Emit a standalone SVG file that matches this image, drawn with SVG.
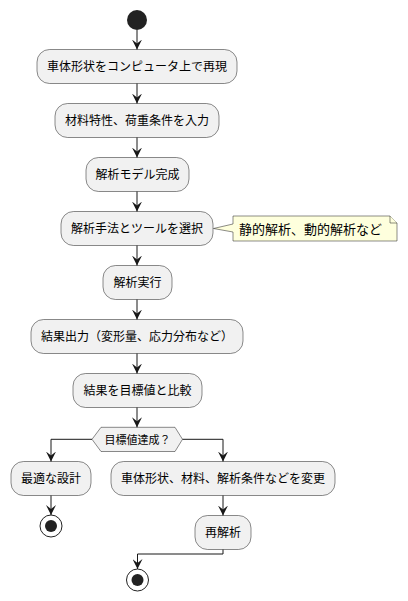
<svg xmlns="http://www.w3.org/2000/svg" width="408" height="601" viewBox="0 0 408 601">
<defs>
<style>
.box{fill:#F1F1F1;stroke:#181818;stroke-width:0.5}
.note{fill:#FEFFDD;stroke:#181818;stroke-width:0.5}
.t{font-family:"Noto Sans CJK JP","Noto Sans",sans-serif;font-size:12px;fill:#000;text-anchor:middle}
.tl{font-family:"Noto Sans CJK JP","Noto Sans",sans-serif;font-size:13px;fill:#000}
.ts{font-family:"Noto Sans CJK JP","Noto Sans",sans-serif;font-size:11px;fill:#000;text-anchor:middle}
.ln{fill:none;stroke:#181818;stroke-width:1}
</style>
<marker id="ah" viewBox="0 0 10 10" refX="10" refY="5" markerWidth="10" markerHeight="10" markerUnits="userSpaceOnUse" orient="auto">
<polygon points="0,0 10,5 0,10 4,5" fill="#181818"/>
</marker>
</defs>
<rect width="408" height="601" fill="#FFFFFF"/>
<g id="start"><circle cx="137" cy="20" r="10" fill="#222222"/></g>
<g id="n1"><rect class="box" x="37" y="49.5" width="200" height="34" rx="12.5"/><text class="t" x="137" y="70.5">車体形状をコンピュータ上で再現</text></g>
<g id="n2"><rect class="box" x="55" y="103.5" width="164" height="34" rx="12.5"/><text class="t" x="137" y="124.5">材料特性、荷重条件を入力</text></g>
<g id="n3"><rect class="box" x="86" y="157.5" width="103" height="34" rx="12.5"/><text class="t" x="137.5" y="178.5">解析モデル完成</text></g>
<g id="n4"><rect class="box" x="61" y="211.5" width="152" height="34" rx="12.5"/><text class="t" x="137" y="232.5">解析手法とツールを選択</text></g>
<g id="note1"><path class="note" d="M233,216 L390,216 L397,223 L397,241 L233,241 L233,232 L213.5,228.5 L233,224 Z"/><path class="note" d="M390,216 L390,223 L397,223" fill="none"/><text class="tl" x="239" y="233.5">静的解析、動的解析など</text></g>
<g id="n5"><rect class="box" x="103" y="265.5" width="69" height="34" rx="12.5"/><text class="t" x="137.5" y="286.5">解析実行</text></g>
<g id="n6"><rect class="box" x="31" y="319.5" width="212" height="34" rx="12.5"/><text class="t" x="137" y="340.5">結果出力（変形量、応力分布など）</text></g>
<g id="n7"><rect class="box" x="73" y="373.5" width="129" height="34" rx="12.5"/><text class="t" x="137.5" y="394.5">結果を目標値と比較</text></g>
<g id="d1"><polygon class="box" points="92,439.3 101,427.3 175,427.3 182.5,439.3 175,451.5 101,451.5"/><text class="ts" x="137.5" y="443.5">目標値達成？</text></g>
<g id="n8"><rect class="box" x="11" y="461.5" width="80" height="34" rx="12.5"/><text class="t" x="51" y="482.5">最適な設計</text></g>
<g id="n9"><rect class="box" x="111" y="461.5" width="224" height="34" rx="12.5"/><text class="t" x="223" y="482.5">車体形状、材料、解析条件などを変更</text></g>
<g id="n10"><rect class="box" x="195" y="515.5" width="56" height="34" rx="12.5"/><text class="t" x="223" y="536.5">再解析</text></g>
<g id="end1"><circle cx="51" cy="526" r="11" fill="none" stroke="#222222" stroke-width="1"/><circle cx="51" cy="526" r="6" fill="#222222"/></g>
<g id="end2"><circle cx="137.5" cy="580" r="11" fill="none" stroke="#222222" stroke-width="1"/><circle cx="137.5" cy="580" r="6" fill="#222222"/></g>
<g id="connectors">
<path class="ln" d="M137,30 L137,49.5" marker-end="url(#ah)"/>
<path class="ln" d="M137,83.5 L137,103.5" marker-end="url(#ah)"/>
<path class="ln" d="M137,137.5 L137,157.5" marker-end="url(#ah)"/>
<path class="ln" d="M137,191.5 L137,211.5" marker-end="url(#ah)"/>
<path class="ln" d="M137,245.5 L137,265.5" marker-end="url(#ah)"/>
<path class="ln" d="M137,299.5 L137,319.5" marker-end="url(#ah)"/>
<path class="ln" d="M137,353.5 L137,373.5" marker-end="url(#ah)"/>
<path class="ln" d="M137,407.5 L137,427.3" marker-end="url(#ah)"/>
<path class="ln" d="M92,439.3 L51,439.3 L51,461.5" marker-end="url(#ah)"/>
<path class="ln" d="M182.5,439.3 L223,439.3 L223,461.5" marker-end="url(#ah)"/>
<path class="ln" d="M51,495.5 L51,515" marker-end="url(#ah)"/>
<path class="ln" d="M223,495.5 L223,515.5" marker-end="url(#ah)"/>
<path class="ln" d="M223,549.5 L223,554 L137.5,554 L137.5,569" marker-end="url(#ah)"/>
</g>
</svg>
